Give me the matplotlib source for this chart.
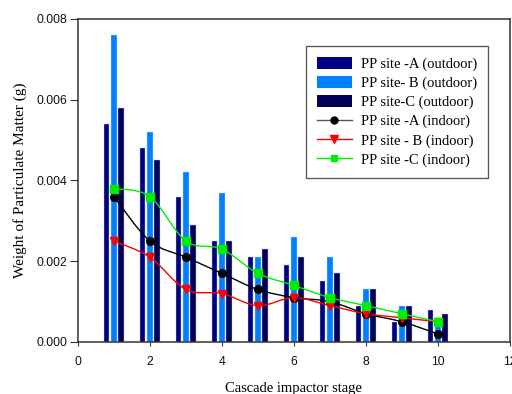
import matplotlib
matplotlib.use("Agg")
import matplotlib.pyplot as plt
import numpy as np
from matplotlib.path import Path
from matplotlib.patches import PathPatch
from matplotlib.lines import Line2D
from matplotlib.patches import Patch

plt.rcParams['font.family'] = ['Liberation Serif', 'DejaVu Serif']

stages = [1, 2, 3, 4, 5, 6, 7, 8, 9, 10]
out_A = [0.0054, 0.0048, 0.0036, 0.0025, 0.0021, 0.0019, 0.0015, 0.0009, 0.0005, 0.0008]
out_B = [0.0076, 0.0052, 0.0042, 0.0037, 0.0021, 0.0026, 0.0021, 0.0013, 0.0009, 0.0005]
out_C = [0.0058, 0.0045, 0.0029, 0.0025, 0.0023, 0.0021, 0.0017, 0.0013, 0.0009, 0.0007]
in_A = [0.0036, 0.0025, 0.0021, 0.0017, 0.0013, 0.0011, 0.0010, 0.0007, 0.0005, 0.0002]
in_B = [0.0025, 0.0021, 0.0013, 0.0012, 0.0009, 0.0011, 0.0009, 0.0007, 0.0006, 0.0005]
in_C = [0.0038, 0.0036, 0.0025, 0.0023, 0.0017, 0.0014, 0.0011, 0.0009, 0.0007, 0.0005]

labels_out = ["PP site -A (outdoor)", "PP site- B (outdoor)", "PP site-C (outdoor)"]
labels_in = ["PP site -A (indoor)", "PP site - B (indoor)", "PP site -C (indoor)"]

fig = plt.figure(figsize=(5.12, 3.94), dpi=100)
ax = fig.add_axes([0.152, 0.132, 0.844, 0.82])

x = np.array(stages, dtype=float)
bw = 0.15
colA, colB, colC = '#000080', '#0080FF', '#000058'
ax.bar(x - 0.2, out_A, width=bw, color=colA, edgecolor='#c8c8e0', linewidth=0.3, zorder=2)
ax.bar(x, out_B, width=bw, color=colB, edgecolor='#c8d8f0', linewidth=0.3, zorder=2)
ax.bar(x + 0.2, out_C, width=bw, color=colC, edgecolor='#c8c8e0', linewidth=0.3, zorder=2)

def smooth_path(xs, ys):
    xs = np.asarray(xs, float); ys = np.asarray(ys, float)
    P = np.column_stack([xs, ys])
    ext = np.vstack([P[0], P, P[-1]])
    verts = [tuple(P[0])]
    codes = [Path.MOVETO]
    for i in range(len(P) - 1):
        p0, p1, p2, p3 = ext[i], ext[i + 1], ext[i + 2], ext[i + 3]
        c1 = p1 + (p2 - p0) / 6.0
        c2 = p2 - (p3 - p1) / 6.0
        verts += [tuple(c1), tuple(c2), tuple(p2)]
        codes += [Path.CURVE4] * 3
    return Path(verts, codes)

for ys, col, mk, ms in [(in_A, 'black', 'o', 5.5), (in_B, '#ff0000', 'v', 6), (in_C, '#00ee00', 's', 5.2)]:
    ax.add_patch(PathPatch(smooth_path(stages, ys), facecolor='none', edgecolor=col, lw=1.0, zorder=3))
    ax.plot(stages, ys, linestyle='none', marker=mk, color=col, markersize=ms, zorder=4)

ax.set_xlim(0, 12)
ax.set_ylim(0, 0.008)
ax.set_xticks([0, 2, 4, 6, 8, 10, 12])
ax.set_yticks([0, 0.002, 0.004, 0.006, 0.008])
ax.set_yticklabels(['0.000', '0.002', '0.004', '0.006', '0.008'])
for sp in ax.spines.values():
    sp.set_color('#333333')
    sp.set_linewidth(1.1)
ax.tick_params(direction='out', colors='#333333')
for lab in ax.get_xticklabels() + ax.get_yticklabels():
    lab.set_family(['Liberation Sans', 'DejaVu Sans'])
    lab.set_fontsize(8.8)
    lab.set_color('#111111')
ax.tick_params(axis='y', length=6, pad=1.5)
ax.tick_params(axis='x', length=3, pad=7)
ax.set_xlabel('Cascade impactor stage', fontsize=10.5, labelpad=10)
ax.set_ylabel('Weight of Particulate Matter (g)', fontsize=11)
ax.yaxis.set_label_coords(-0.118, 0.5)

handles = [Patch(facecolor=colA), Patch(facecolor=colB), Patch(facecolor=colC),
           Line2D([], [], color='#555555', marker='o', markerfacecolor='black', markeredgecolor='black', markersize=5, lw=1),
           Line2D([], [], color='#ff0000', marker='v', markersize=5.5, lw=1),
           Line2D([], [], color='#00ee00', marker='s', markersize=5, lw=1)]
leg = ax.legend(handles, labels_out + labels_in, loc='upper right', bbox_to_anchor=(0.949, 0.916),
                fontsize=10.5, frameon=True, fancybox=False, edgecolor='#333333',
                handlelength=2.4, handleheight=0.9, labelspacing=0.33, borderpad=0.75,
                handletextpad=0.6, borderaxespad=0)
leg.get_frame().set_linewidth(1.0)

fig.savefig('out.png', dpi=100)
